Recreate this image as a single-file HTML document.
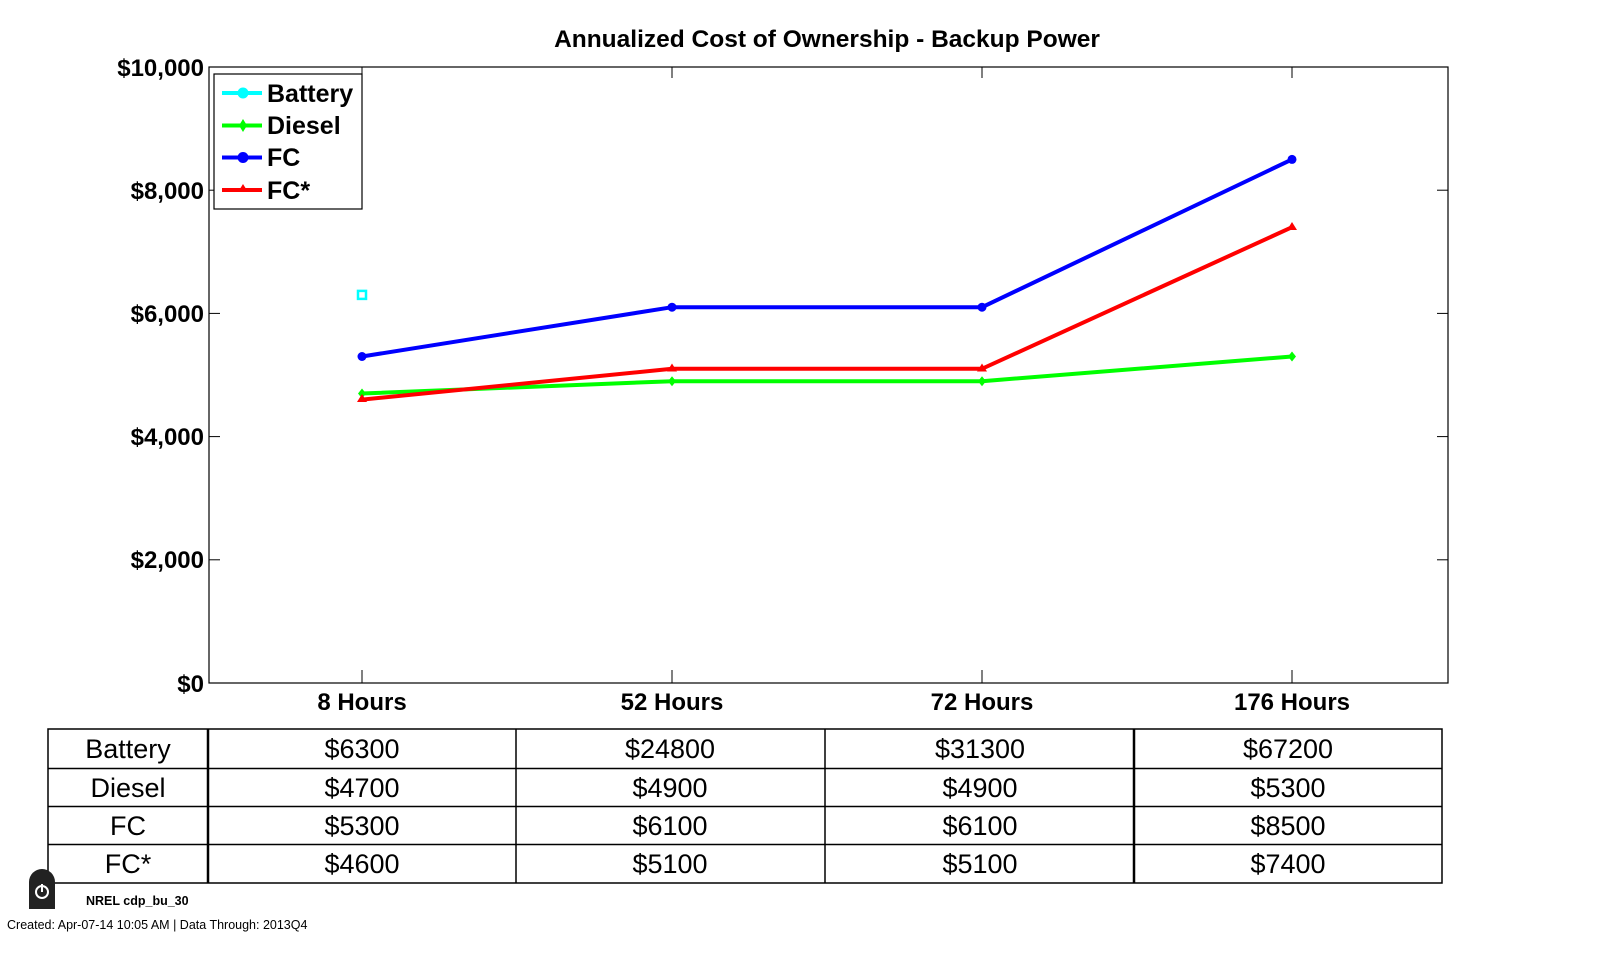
<!DOCTYPE html><html><head><style>body{margin:0;background:#fff}svg{display:block}</style></head><body>
<svg width="1599" height="960" xmlns="http://www.w3.org/2000/svg" font-family="Liberation Sans, Arial, sans-serif">
<text x="827" y="47" text-anchor="middle" font-weight="bold" font-size="24.5">Annualized Cost of Ownership - Backup Power</text>
<rect x="209" y="67" width="1239" height="616" fill="none" stroke="#000" stroke-width="1.2"/>
<g stroke="#000" stroke-width="1">
<line x1="209" y1="190.2" x2="220" y2="190.2"/><line x1="1437" y1="190.2" x2="1448" y2="190.2"/>
<line x1="209" y1="313.4" x2="220" y2="313.4"/><line x1="1437" y1="313.4" x2="1448" y2="313.4"/>
<line x1="209" y1="436.6" x2="220" y2="436.6"/><line x1="1437" y1="436.6" x2="1448" y2="436.6"/>
<line x1="209" y1="559.8" x2="220" y2="559.8"/><line x1="1437" y1="559.8" x2="1448" y2="559.8"/>
<line x1="362" y1="683" x2="362" y2="670"/><line x1="672" y1="683" x2="672" y2="670"/><line x1="982" y1="683" x2="982" y2="670"/><line x1="1292" y1="683" x2="1292" y2="670"/>
<line x1="362" y1="67" x2="362" y2="78"/><line x1="672" y1="67" x2="672" y2="78"/><line x1="982" y1="67" x2="982" y2="78"/><line x1="1292" y1="67" x2="1292" y2="78"/>
</g>
<g font-weight="bold" font-size="24" text-anchor="end">
<text x="204" y="76">$10,000</text><text x="204" y="199">$8,000</text><text x="204" y="322">$6,000</text><text x="204" y="445">$4,000</text><text x="204" y="568">$2,000</text><text x="204" y="692">$0</text>
</g>
<g font-weight="bold" font-size="24" text-anchor="middle">
<text x="362" y="710">8 Hours</text><text x="672" y="710">52 Hours</text><text x="982" y="710">72 Hours</text><text x="1292" y="710">176 Hours</text>
</g>
<polyline points="362,393.5 672,381.2 982,381.2 1292,356.5" fill="none" stroke="#00ff00" stroke-width="4"/>
<polyline points="362,399.6 672,368.8 982,368.8 1292,227.2" fill="none" stroke="#ff0000" stroke-width="4"/>
<polyline points="362,356.5 672,307.2 982,307.2 1292,159.4" fill="none" stroke="#0000ff" stroke-width="4"/>
<g fill="#00ff00"><path d="M362,388.5 l4,5 -4,5 -4,-5z"/><path d="M672,376.2 l4,5 -4,5 -4,-5z"/><path d="M982,376.2 l4,5 -4,5 -4,-5z"/><path d="M1292,351.5 l4,5 -4,5 -4,-5z"/></g>
<g fill="#ff0000"><path d="M362,394 l5,8 -10,0z"/><path d="M672,363.5 l5,8 -10,0z"/><path d="M982,363.5 l5,8 -10,0z"/><path d="M1292,222 l5,8 -10,0z"/></g>
<g fill="#0000ff"><circle cx="362" cy="356.5" r="4.5"/><circle cx="672" cy="307.2" r="4.5"/><circle cx="982" cy="307.2" r="4.5"/><circle cx="1292" cy="159.4" r="4.5"/></g>
<rect x="358" y="290.9" width="8" height="8" fill="none" stroke="#00ffff" stroke-width="2.5"/>
<rect x="214" y="74" width="148" height="135" fill="#fff" stroke="#000" stroke-width="1.2"/>
<g stroke-width="4"><line x1="222" y1="93" x2="262" y2="93" stroke="#00ffff"/><line x1="222" y1="125.5" x2="262" y2="125.5" stroke="#00ff00"/><line x1="222" y1="157.5" x2="262" y2="157.5" stroke="#0000ff"/><line x1="222" y1="190" x2="262" y2="190" stroke="#ff0000"/></g>
<circle cx="243" cy="93" r="5.5" fill="#00ffff"/><path d="M243,119 l4,6.5 -4,6.5 -4,-6.5z" fill="#00ff00"/><circle cx="243" cy="157.5" r="5.5" fill="#0000ff"/><path d="M243,184 l5,8 -10,0z" fill="#ff0000"/>
<g font-weight="bold" font-size="25"><text x="267" y="102">Battery</text><text x="267" y="134">Diesel</text><text x="267" y="166">FC</text><text x="267" y="199">FC*</text></g>
<g stroke="#000" stroke-width="1.5" fill="none">
<rect x="48" y="729" width="1394" height="154"/>
<line x1="48" y1="768.5" x2="1442" y2="768.5"/><line x1="48" y1="806.5" x2="1442" y2="806.5"/><line x1="48" y1="844.5" x2="1442" y2="844.5"/>
<line x1="208" y1="729" x2="208" y2="883" stroke-width="2.5"/><line x1="516" y1="729" x2="516" y2="883"/><line x1="825" y1="729" x2="825" y2="883"/><line x1="1134" y1="729" x2="1134" y2="883" stroke-width="2.5"/>
</g>
<g font-size="27" text-anchor="middle">
<text x="128" y="758">Battery</text><text x="128" y="797">Diesel</text><text x="128" y="835">FC</text><text x="128" y="873">FC*</text>
<text x="362" y="758">$6300</text><text x="670" y="758">$24800</text><text x="980" y="758">$31300</text><text x="1288" y="758">$67200</text>
<text x="362" y="797">$4700</text><text x="670" y="797">$4900</text><text x="980" y="797">$4900</text><text x="1288" y="797">$5300</text>
<text x="362" y="835">$5300</text><text x="670" y="835">$6100</text><text x="980" y="835">$6100</text><text x="1288" y="835">$8500</text>
<text x="362" y="873">$4600</text><text x="670" y="873">$5100</text><text x="980" y="873">$5100</text><text x="1288" y="873">$7400</text>
</g>
<path d="M29,882 a13,13 0 0 1 26,0 v27 h-26z" fill="#222"/>
<circle cx="42" cy="892" r="6" fill="none" stroke="#fff" stroke-width="2"/><line x1="42" y1="884" x2="42" y2="892" stroke="#fff" stroke-width="2"/>
<text x="86" y="905" font-weight="bold" font-size="12.5">NREL cdp_bu_30</text>
<text x="7" y="929" font-size="12.5">Created: Apr-07-14 10:05 AM | Data Through: 2013Q4</text>
</svg></body></html>
